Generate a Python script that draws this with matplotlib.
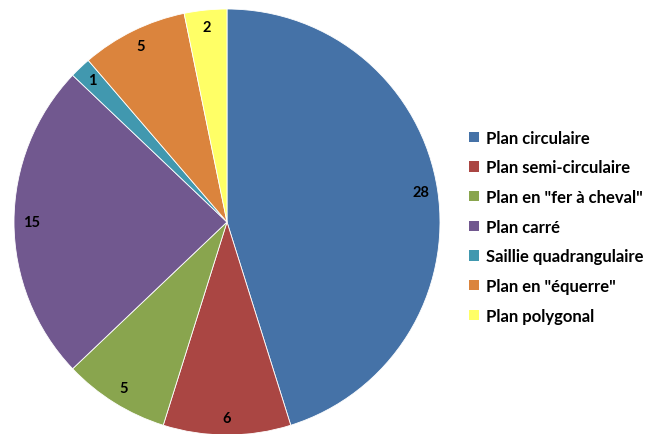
import matplotlib.pyplot as plt
from matplotlib.patches import Patch

categories = ['Plan circulaire', 'Plan semi-circulaire', 'Plan en "fer à cheval"',
              'Plan carré', 'Saillie quadrangulaire', 'Plan en "équerre"', 'Plan polygonal']
values = [28, 6, 5, 15, 1, 5, 2]
colors = ['#4572A7', '#AA4643', '#89A54E', '#71588F', '#4198AF', '#DB843D', '#FFFF66']

plt.rcParams['font.family'] = ['Lato', 'DejaVu Sans']

fig = plt.figure(figsize=(6.49, 4.35), dpi=100)
cx, cy, r = 227, 223, 213
ax = fig.add_axes([(cx - r) / 649, (435 - cy - r) / 435, 2 * r / 649, 2 * r / 435])

total = sum(values)
wedges, texts, autotexts = ax.pie(values, colors=colors, startangle=90, counterclock=False,
                                  autopct=lambda p: '%d' % round(p * total / 100), pctdistance=0.92,
                                  wedgeprops=dict(edgecolor='white', linewidth=0.6),
                                  textprops=dict(fontsize=10.5, fontweight='bold', color='black'))
for w in wedges:
    w.set_clip_on(False)
ax.set_xlim(-1, 1)
ax.set_ylim(-1, 1)
ax.set_aspect('auto')

handles = [Patch(facecolor=c, edgecolor='none') for c in colors]
leg = fig.legend(handles, categories, loc='upper left', bbox_to_anchor=(462 / 649, 1 - 124 / 435),
                 frameon=False, prop=dict(size=12, weight='bold'),
                 handlelength=0.6, handleheight=0.6, handletextpad=0.45, labelspacing=0.82,
                 borderaxespad=0)

fig.savefig('out.png', dpi=100)
